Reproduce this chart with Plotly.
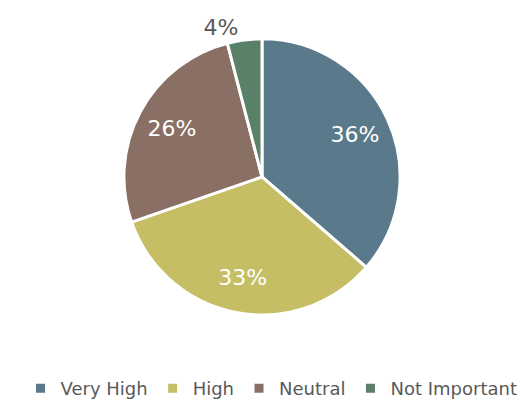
import plotly.graph_objects as go

labels = ["Very High", "High", "Neutral", "Not Important"]
values = [36, 33, 26, 4]
colors = ["#5a7a8c", "#c6be64", "#8a7064", "#5a8068"]

dom = dict(x=[0.22, 0.744], y=[0.242, 0.924])

fig = go.Figure()

# the pie itself, no text
fig.add_trace(go.Pie(
    labels=labels,
    values=values,
    sort=False,
    direction="clockwise",
    rotation=0,
    marker=dict(colors=colors, line=dict(color="white", width=3)),
    textinfo="none",
    domain=dom,
    hoverinfo="label+value",
))

# transparent ring on top, used only to push the labels outward
fig.add_trace(go.Pie(
    labels=labels,
    values=values,
    sort=False,
    direction="clockwise",
    rotation=0,
    hole=0.48,
    marker=dict(colors=["rgba(0,0,0,0)"] * 4, line=dict(width=0)),
    texttemplate="%{value}%",
    textposition=["inside", "inside", "inside", "outside"],
    insidetextorientation="horizontal",
    insidetextfont=dict(color="white", size=22, family="DejaVu Sans"),
    outsidetextfont=dict(color="#595959", size=22, family="DejaVu Sans"),
    domain=dom,
    showlegend=False,
    hoverinfo="skip",
))

fig.update_layout(
    width=527,
    height=405,
    margin=dict(l=0, r=0, t=0, b=0),
    paper_bgcolor="white",
    plot_bgcolor="white",
    showlegend=True,
    legend=dict(
        orientation="h",
        x=0.5, xanchor="center",
        y=0.015, yanchor="bottom",
        font=dict(size=18, color="#595959", family="DejaVu Sans"),
        itemwidth=30,
        tracegroupgap=0,
    ),
)

fig.write_html("out.html")
